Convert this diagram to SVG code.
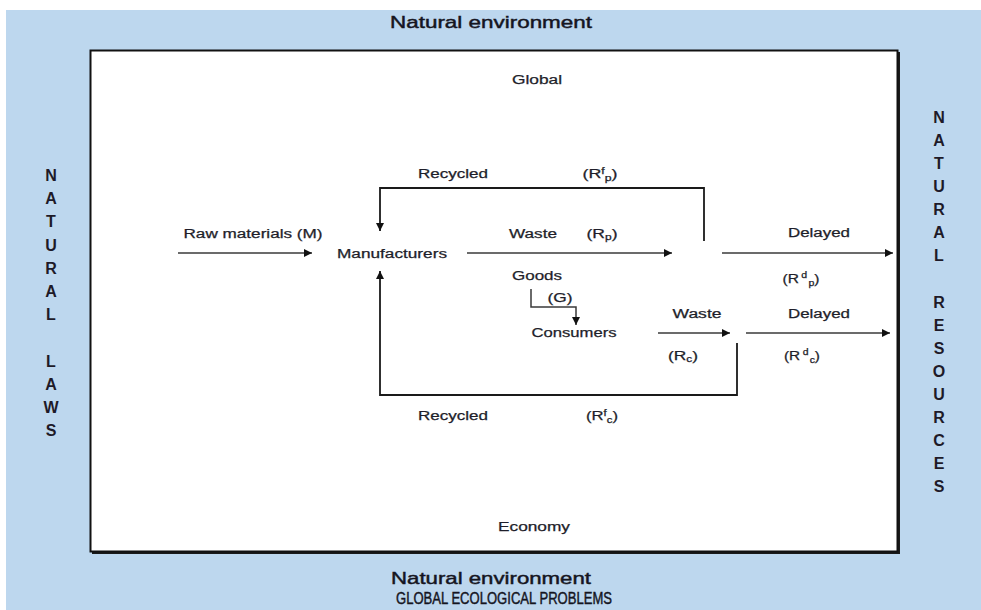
<svg xmlns="http://www.w3.org/2000/svg" width="981" height="610" viewBox="0 0 981 610">
  <style>
    .lbl { font-family: "Liberation Sans", Arial, sans-serif; font-size: 12.5px; fill: #1e1e2a; stroke: #1e1e2a; stroke-width: 0.25; text-anchor: middle; }
    .sub { font-size: 8.5px; }
    .side { font-family: "Liberation Sans", Arial, sans-serif; font-size: 16px; font-weight: bold; fill: #1e1a28; text-anchor: middle; }
    .env { font-family: "Liberation Sans Narrow", "Liberation Sans", Arial, sans-serif; font-size: 17px; fill: #15151f; stroke: #15151f; stroke-width: 0.45; text-anchor: middle; }
    .flow { fill: none; stroke: #3a3a3a; stroke-width: 1.5; }
    .loop { fill: none; stroke: #1a1a1a; stroke-width: 1.8; }
  </style>
  <defs>
    <marker id="arrow" viewBox="0 0 10 10" refX="10" refY="5" markerWidth="8" markerHeight="8" markerUnits="userSpaceOnUse" orient="auto">
      <path d="M0,0 L10,5 L0,10 Z" fill="#111"/>
    </marker>
  </defs>

  <!-- natural environment backdrop -->
  <rect x="6" y="10" width="975" height="600" fill="#bdd7ee"/>
  <text class="env" x="491" y="28" textLength="202" lengthAdjust="spacingAndGlyphs">Natural environment</text>
  <text class="env" x="491" y="584" textLength="200" lengthAdjust="spacingAndGlyphs">Natural environment</text>
  <text class="env" x="504" y="604" textLength="216" lengthAdjust="spacingAndGlyphs">GLOBAL ECOLOGICAL PROBLEMS</text>

  <!-- economy box with drop shadow -->
  <g id="economy-box">
    <rect x="92" y="52" width="808" height="502" fill="#1a1a1a"/>
    <rect x="90.5" y="50.5" width="807" height="501" fill="#ffffff" stroke="#111" stroke-width="2"/>
    <text class="lbl" x="537" y="84" textLength="50" lengthAdjust="spacingAndGlyphs">Global</text>
    <text class="lbl" x="534" y="531" textLength="72" lengthAdjust="spacingAndGlyphs">Economy</text>
  </g>

  <!-- side captions -->
  <g id="natural-laws" class="side">
    <text x="51" y="181">N</text>
    <text x="51" y="204">A</text>
    <text x="51" y="227">T</text>
    <text x="51" y="251">U</text>
    <text x="51" y="274">R</text>
    <text x="51" y="297">A</text>
    <text x="51" y="320">L</text>
    <text x="51" y="367">L</text>
    <text x="51" y="390">A</text>
    <text x="51" y="413">W</text>
    <text x="51" y="436">S</text>
  </g>
  <g id="natural-resources" class="side">
    <text x="939" y="123">N</text>
    <text x="939" y="146">A</text>
    <text x="939" y="169">T</text>
    <text x="939" y="192">U</text>
    <text x="939" y="215">R</text>
    <text x="939" y="238">A</text>
    <text x="939" y="261">L</text>
    <text x="939" y="308">R</text>
    <text x="939" y="331">E</text>
    <text x="939" y="354">S</text>
    <text x="939" y="377">O</text>
    <text x="939" y="400">U</text>
    <text x="939" y="423">R</text>
    <text x="939" y="446">C</text>
    <text x="939" y="469">E</text>
    <text x="939" y="492">S</text>
  </g>

  <!-- nodes -->
  <g id="manufacturers">
    <text class="lbl" x="392" y="258" textLength="110" lengthAdjust="spacingAndGlyphs">Manufacturers</text>
  </g>
  <g id="goods">
    <text class="lbl" x="537" y="280" textLength="50" lengthAdjust="spacingAndGlyphs">Goods</text>
  </g>
  <g id="consumers">
    <text class="lbl" x="574" y="337" textLength="85" lengthAdjust="spacingAndGlyphs">Consumers</text>
  </g>

  <!-- flows between economy and environment -->
  <g id="connectors">
    <path class="flow" d="M178,253 H312" marker-end="url(#arrow)"/>
    <path class="flow" d="M467,253 H672" marker-end="url(#arrow)"/>
    <path class="flow" d="M722,253 H893" marker-end="url(#arrow)"/>
    <path class="loop" d="M704,241 V188 H380 V231" marker-end="url(#arrow)"/>
    <path class="flow" d="M531,289 V307 H576 V325" marker-end="url(#arrow)"/>
    <path class="flow" d="M658,333 H730" marker-end="url(#arrow)"/>
    <path class="flow" d="M746,333 H890" marker-end="url(#arrow)"/>
    <path class="loop" d="M737,343 V395 H380 V271" marker-end="url(#arrow)"/>
  </g>

  <!-- flow labels -->
  <g id="flow-labels">
    <text class="lbl" x="253" y="238" textLength="139" lengthAdjust="spacingAndGlyphs">Raw materials (M)</text>
    <text class="lbl" x="453" y="178" textLength="70" lengthAdjust="spacingAndGlyphs">Recycled</text>
    <text class="lbl" x="600" y="178" text-anchor="start" textLength="35" lengthAdjust="spacingAndGlyphs">(R<tspan class="sub" dy="-4">f</tspan><tspan class="sub" dy="7">p</tspan><tspan dy="-3">)</tspan></text>
    <text class="lbl" x="533" y="238" textLength="48" lengthAdjust="spacingAndGlyphs">Waste</text>
    <text class="lbl" x="602" y="238" text-anchor="start" textLength="31" lengthAdjust="spacingAndGlyphs">(R<tspan class="sub" dy="2">p</tspan><tspan dy="-2">)</tspan></text>
    <text class="lbl" x="819" y="237" textLength="62" lengthAdjust="spacingAndGlyphs">Delayed</text>
    <text class="lbl" x="801" y="283" text-anchor="start" textLength="37" lengthAdjust="spacingAndGlyphs">(R<tspan class="sub" dx="2" dy="-5">d</tspan><tspan class="sub" dx="1" dy="8">p</tspan><tspan dy="-3">)</tspan></text>
    <text class="lbl" x="560" y="302" textLength="25" lengthAdjust="spacingAndGlyphs">(G)</text>
    <text class="lbl" x="697" y="318" textLength="49" lengthAdjust="spacingAndGlyphs">Waste</text>
    <text class="lbl" x="683" y="360" text-anchor="start" textLength="30" lengthAdjust="spacingAndGlyphs">(R<tspan class="sub" dy="2">c</tspan><tspan dy="-2">)</tspan></text>
    <text class="lbl" x="819" y="318" textLength="62" lengthAdjust="spacingAndGlyphs">Delayed</text>
    <text class="lbl" x="802" y="360" text-anchor="start" textLength="36" lengthAdjust="spacingAndGlyphs">(R<tspan class="sub" dx="2" dy="-5">d</tspan><tspan class="sub" dx="1" dy="8">c</tspan><tspan dy="-3">)</tspan></text>
    <text class="lbl" x="453" y="420" textLength="70" lengthAdjust="spacingAndGlyphs">Recycled</text>
    <text class="lbl" x="602" y="420" text-anchor="start" textLength="32" lengthAdjust="spacingAndGlyphs">(R<tspan class="sub" dy="-4">f</tspan><tspan class="sub" dy="7">c</tspan><tspan dy="-3">)</tspan></text>
  </g>
</svg>
